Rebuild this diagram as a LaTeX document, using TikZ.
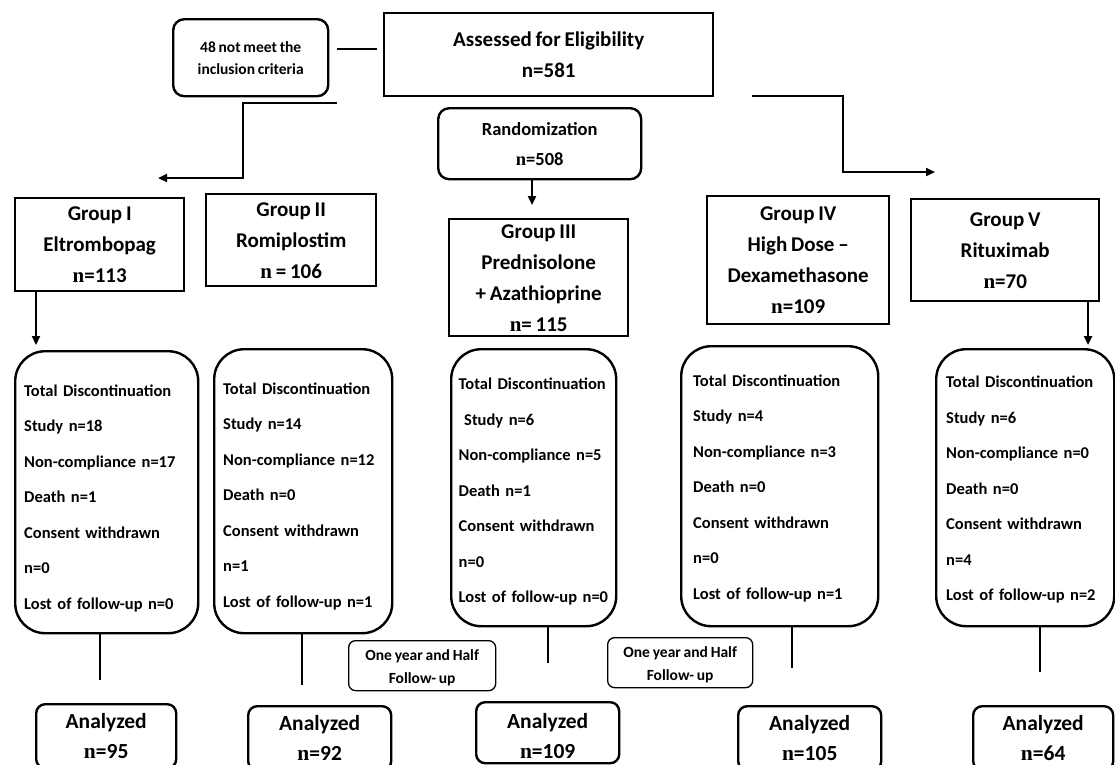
\documentclass[tikz,border=0pt]{standalone}
\usepackage{fontspec}
\setmainfont{Carlito}[WordSpace=0.8]
\newfontfamily\nfont{Liberation Serif}
\usetikzlibrary{arrows.meta}
\newcommand{\pushdown}[1]{\rule{0pt}{#1}}
\tikzset{
  box/.style={draw, line width=2.4pt, align=center, inner sep=0pt, anchor=north west},
  rbox/.style={box, rounded corners=11pt},
  disc/.style={draw, line width=2.4pt, rounded corners=30pt, align=left, inner xsep=9pt, inner ysep=0pt, anchor=north west,
    font=\fontsize{16.5}{35.5}\selectfont\bfseries},
  fbox/.style={draw, line width=1.3pt, rounded corners=7pt, align=center, inner sep=0pt, anchor=north west,
    font=\fontsize{15.5}{23}\selectfont\bfseries},
  anbox/.style={rbox, rounded corners=9pt, font=\fontsize{21.5}{30}\selectfont\bfseries},
  headf/.style={font=\fontsize{21}{31}\selectfont\bfseries},
  arr/.style={-{Triangle[length=9pt,width=8pt]}, line width=2.2pt},
  con/.style={line width=2.2pt},
  thin/.style={line width=1.8pt}
}
\begin{document}
\begin{tikzpicture}[x=1pt,y=-1pt]
\useasboundingbox (0,0) rectangle (1115,764);
\clip (0,0) rectangle (1115,764);
\fill[white] (0,0) rectangle (1115,764);

% top row
\node[rbox, minimum width=155pt, minimum height=77pt, font=\fontsize{15.5}{22}\selectfont\bfseries] (excl) at (172,18) {48 not meet the\\inclusion criteria};
\node[box, headf, minimum width=329pt, minimum height=83pt] (assess) at (383,12) {Assessed for Eligibility\\n=581};
\node[rbox, minimum width=203pt, minimum height=71pt, font=\fontsize{18.5}{30}\selectfont\bfseries] (rand) at (437,107) {Randomization\\{\nfont n}=508};

\coordinate (l1) at (337,49);
\coordinate (l2) at (377,49);
\draw[con] (l1) -- (l2);

\coordinate (e1) at (337,103);
\coordinate (e2) at (243,103);
\coordinate (e3) at (243,178);
\coordinate (e4) at (158,178);
\draw[arr] (e1) -- (e2) -- (e3) -- (e4);

\coordinate (f1) at (752,96);
\coordinate (f2) at (843,96);
\coordinate (f3) at (843,172);
\coordinate (f4) at (935,172);
\draw[arr] (f1) -- (f2) -- (f3) -- (f4);

\coordinate (r1) at (532,205);
\draw[arr] (rand.south -| r1) -- (r1);

% groups
\node[box, headf, minimum width=169pt, minimum height=93pt] (g1) at (14,197) {Group I\\Eltrombopag\\{\nfont n}=113};
\node[box, headf, minimum width=170pt, minimum height=92pt] (g2) at (205,193) {Group II\\Romiplostim\\{\nfont n} = 106};
\node[box, headf, minimum width=179pt, minimum height=117pt] (g3) at (448,218) {Group III\\Prednisolone\\+ Azathioprine\\{\nfont n}= 115};
\node[box, headf, minimum width=182pt, minimum height=128pt] (g4) at (706,195) {Group IV\\High Dose –\\Dexamethasone\\{\nfont n}=109};
\node[box, headf, minimum width=188pt, minimum height=102pt] (g5) at (910,198) {Group V\\Rituximab\\{\nfont n}=70};

\coordinate (a1) at (36,345);
\draw[arr] (a1 |- g1.south) -- (a1);
\coordinate (a5) at (1088,345);
\draw[arr] (a5 |- g5.south) -- (a5);

% discontinuation boxes
\node[disc, minimum width=183pt, minimum height=282pt, text width=165pt] (d1) at (14,350)
 {\pushdown{24pt}Total Discontinuation\\Study n=18\\Non-compliance n=17\\Death n=1\\Consent withdrawn\\n=0\\Lost of follow-up n=0};
\node[disc, minimum width=178pt, minimum height=284pt, text width=160pt] (d2) at (213,348)
 {\pushdown{22pt}Total Discontinuation\\Study n=14\\Non-compliance n=12\\Death n=0\\Consent withdrawn\\n=1\\Lost of follow-up n=1};
\node[disc, minimum width=165pt, minimum height=277pt, text width=150pt, inner xsep=7pt] (d3) at (450,348)
 {\pushdown{20pt}Total Discontinuation\\\ Study n=6\\Non-compliance n=5\\Death n=1\\Consent withdrawn\\n=0\\Lost of follow-up n=0};
\node[disc, minimum width=197pt, minimum height=280pt, text width=173pt, inner xsep=12pt] (d4) at (680,345)
 {\pushdown{16pt}Total Discontinuation\\Study n=4\\Non-compliance n=3\\Death n=0\\Consent withdrawn\\n=0\\Lost of follow-up n=1};
\node[disc, minimum width=178pt, minimum height=277pt, text width=158pt, inner xsep=10pt] (d5) at (935,348)
 {\pushdown{16pt}Total Discontinuation\\Study n=6\\Non-compliance n=0\\Death n=0\\Consent withdrawn\\n=4\\Lost of follow-up n=2};

\coordinate (c1) at (100,680);
\coordinate (c2) at (302,685);
\coordinate (c3) at (548,663);
\coordinate (c4) at (792,668);
\coordinate (c5) at (1040,672);
\draw[thin] (c1 |- d1.south) -- (c1);
\draw[thin] (c2 |- d2.south) -- (c2);
\draw[thin] (c3 |- d3.south) -- (c3);
\draw[thin] (c4 |- d4.south) -- (c4);
\draw[thin] (c5 |- d5.south) -- (c5);

% follow-up notes
\node[fbox, minimum width=147pt, minimum height=50pt] (fu1) at (348,640) {\pushdown{15pt}One year and Half\\Follow- up};
\node[fbox, minimum width=145pt, minimum height=50pt] (fu2) at (607,637) {\pushdown{15pt}One year and Half\\Follow- up};

% analyzed
\node[anbox, minimum width=140pt, minimum height=64pt] (an1) at (35,703) {Analyzed\\{\nfont n}=95};
\node[anbox, minimum width=143pt, minimum height=64pt] (an2) at (247,705) {Analyzed\\{\nfont n}=92};
\node[anbox, minimum width=143pt, minimum height=61pt] (an3) at (475,701) {\pushdown{22pt}Analyzed\\{\nfont n}=109};
\node[anbox, minimum width=143pt, minimum height=64pt] (an4) at (737,705) {Analyzed\\{\nfont n}=105};
\node[anbox, minimum width=140pt, minimum height=64pt] (an5) at (972,705) {Analyzed\\{\nfont n}=64};
\end{tikzpicture}
\end{document}
